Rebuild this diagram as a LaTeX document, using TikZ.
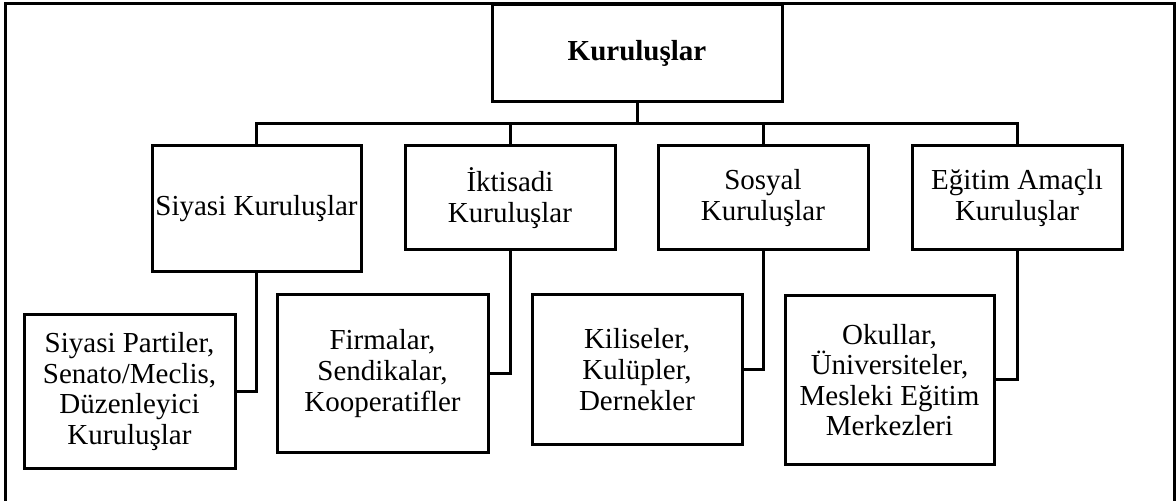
\documentclass[tikz,border=0pt]{standalone}
\usepackage{fontspec}
\setmainfont{Liberation Serif}
\begin{document}
\begin{tikzpicture}[x=0.5pt,y=-0.5pt,line width=1.5pt,
  kutu/.style={draw, align=center, inner sep=0pt, font=\fontsize{14.5}{15.3}\selectfont}]
\useasboundingbox (0,0) rectangle (1176,501);
\draw (5,501) -- (5,4) -- (1174,4) -- (1174,501);
\node[kutu, minimum width=145pt, minimum height=48.5pt] (k0) at (637,53.5) {\textbf{Kuruluşlar}};
\node[kutu, minimum width=104.5pt, minimum height=63pt] (k1) at (256.5,209) {Siyasi Kuruluşlar};
\node[kutu, minimum width=105pt, minimum height=52pt] (k2) at (510,198) {İktisadi\\Kuruluşlar};
\node[kutu, minimum width=105pt, minimum height=52pt] (k3) at (763,198) {Sosyal\\Kuruluşlar};
\node[kutu, minimum width=105pt, minimum height=52pt] (k4) at (1017,198) {Eğitim Amaçlı\\Kuruluşlar};
\node[kutu, minimum width=105.5pt, minimum height=76.5pt] (o1) at (129.5,391.5) {Siyasi Partiler,\\Senato/Meclis,\\Düzenleyici\\Kuruluşlar};
\node[kutu, minimum width=105.5pt, minimum height=78.5pt] (o2) at (382.5,373.5) {Firmalar,\\Sendikalar,\\Kooperatifler};
\node[kutu, minimum width=105pt, minimum height=74.5pt] (o3) at (637,369.5) {Kiliseler,\\Kulüpler,\\Dernekler};
\node[kutu, minimum width=104.5pt, minimum height=84pt] (o4) at (889.5,380) {Okullar,\\Üniversiteler,\\Mesleki Eğitim\\Merkezleri};
\coordinate (bus) at (637,124);
\draw (k0.south) -- (bus);
\draw (bus) -| (k1.north);
\draw (bus) -| (k2.north);
\draw (bus) -| (k3.north);
\draw (bus) -| (k4.north);
\draw (k1.south) |- (o1.east);
\draw (k2.south) |- (o2.east);
\draw (k3.south) |- (o3.east);
\draw (k4.south) |- (o4.east);
\end{tikzpicture}
\end{document}
